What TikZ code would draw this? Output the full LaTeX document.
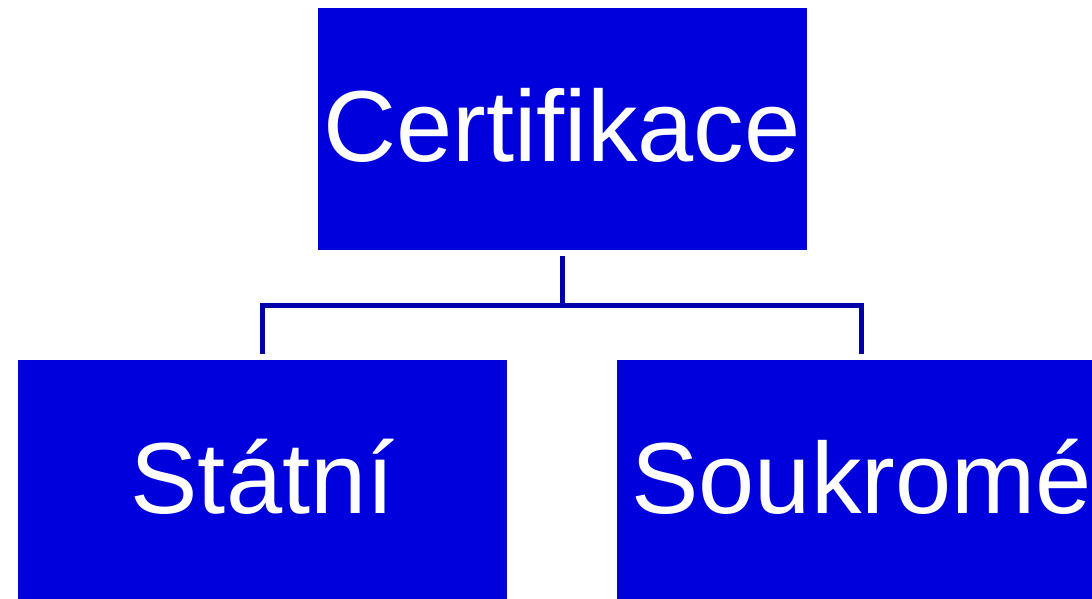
\documentclass[tikz,border=0pt]{standalone}
\usepackage{fontspec}
\setmainfont{Liberation Sans}
\definecolor{boxblue}{RGB}{0,0,220}
\definecolor{lineblue}{RGB}{0,0,170}
\begin{document}
\begin{tikzpicture}[x=1pt,y=1pt,
  box/.style={rectangle, fill=boxblue, draw=none, inner sep=0pt,
    minimum width=489pt, minimum height=242pt, text=white,
    font=\fontsize{101}{110}\selectfont, text height=68pt, text depth=4pt},
  conn/.style={draw=lineblue, line width=5pt, shorten <=6pt, shorten >=6pt}]
\useasboundingbox (0,0) rectangle (1092,-599);
\clip (0,0) rectangle (1092,-599);
\node[box] (top) at (562,-129) {Certifikace};
\node[box] (left) at (262.5,-481) {Státní};
\node[box] (right) at (861.5,-481) {Soukromé};
\draw[conn] (top.south) -- ++(0,-55) -| (left.north);
\draw[conn] (top.south) -- ++(0,-55) -| (right.north);
\end{tikzpicture}
\end{document}
